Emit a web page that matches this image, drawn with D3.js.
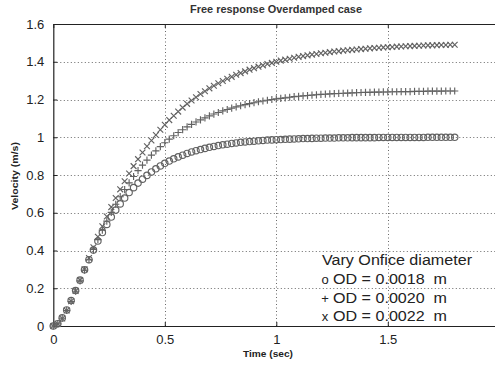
<!DOCTYPE html>
<html><head><meta charset="utf-8">
<script src="https://cdn.jsdelivr.net/npm/d3@7"></script>
<style>
body{margin:0;background:#fff;}
svg text{font-family:"Liberation Sans",Arial,sans-serif;}
</style></head><body>
<svg id="chart" width="495" height="365"></svg>
<script>
const chartTitle = "Free response Overdamped case";
const xLabel = "Time (sec)";
const yLabel = "Velocity (m/s)";
const legendTitle = "Vary Onfice diameter";
const seriesNames = ["OD = 0.0018  m", "OD = 0.0020  m", "OD = 0.0022  m"];
const seriesSymbols = ["o", "+", "x"];
const xTicks = [0, 0.5, 1, 1.5];
const xTickLabels = ["0", "0.5", "1", "1.5"];
const yTicks = [0, 0.2, 0.4, 0.6, 0.8, 1, 1.2, 1.4, 1.6];
const yTickLabels = ["0", "0.2", "0.4", "0.6", "0.8", "1", "1.2", "1.4", "1.6"];

const time = [0,0.02,0.04,0.06,0.08,0.10,0.12,0.14,0.16,0.18,0.20,0.22,0.24,0.26,0.28,0.30,0.32,0.34,0.36,0.38,
0.40,0.42,0.44,0.46,0.48,0.50,0.52,0.54,0.56,0.58,0.60,0.62,0.64,0.66,0.68,0.70,0.72,0.74,0.76,0.78,
0.80,0.82,0.84,0.86,0.88,0.90,0.92,0.94,0.96,0.98,1.00,1.02,1.04,1.06,1.08,1.10,1.12,1.14,1.16,1.18,
1.20,1.22,1.24,1.26,1.28,1.30,1.32,1.34,1.36,1.38,1.40,1.42,1.44,1.46,1.48,1.50,1.52,1.54,1.56,1.58,
1.60,1.62,1.64,1.66,1.68,1.70,1.72,1.74,1.76,1.78,1.80];

// OD = 0.0018 m  (o)
const velOD18 = [0,0.012,0.043,0.085,0.135,0.188,0.243,0.298,0.351,0.402,0.450,0.495,0.538,0.577,0.614,0.647,0.678,0.707,0.733,0.757,
0.778,0.798,0.816,0.833,0.848,0.862,0.874,0.886,0.896,0.905,0.914,0.922,0.929,0.935,0.941,0.947,0.951,0.956,0.960,0.963,
0.967,0.970,0.973,0.975,0.977,0.979,0.981,0.983,0.985,0.986,0.987,0.988,0.989,0.990,0.991,0.992,0.993,0.993,0.994,0.995,
0.995,0.996,0.996,0.996,0.997,0.997,0.997,0.998,0.998,0.998,0.998,0.998,0.998,0.999,0.999,0.999,0.999,0.999,0.999,0.999,
0.999,0.999,0.999,0.999,1.000,1.000,1.000,1.000,1.000,1.000,1.000];

// OD = 0.0020 m  (+)
const velOD20 = [0,0.011,0.041,0.082,0.130,0.184,0.239,0.296,0.351,0.406,0.458,0.508,0.556,0.602,0.645,0.685,0.723,0.758,0.792,0.823,
0.852,0.879,0.905,0.928,0.950,0.971,0.990,1.008,1.025,1.040,1.055,1.068,1.081,1.092,1.103,1.113,1.123,1.131,1.140,1.147,
1.154,1.161,1.167,1.173,1.178,1.183,1.188,1.192,1.196,1.200,1.203,1.206,1.209,1.212,1.215,1.217,1.219,1.221,1.223,1.225,
1.227,1.228,1.230,1.231,1.232,1.233,1.234,1.235,1.236,1.237,1.238,1.238,1.239,1.239,1.240,1.240,1.241,1.241,1.242,1.242,
1.242,1.243,1.243,1.243,1.244,1.244,1.244,1.244,1.245,1.245,1.245];

// OD = 0.0022 m  (x)
const velOD22 = [0,0.011,0.040,0.082,0.131,0.186,0.243,0.301,0.360,0.417,0.473,0.528,0.580,0.630,0.678,0.724,0.767,0.808,0.847,0.884,
0.919,0.952,0.983,1.012,1.040,1.066,1.091,1.114,1.136,1.157,1.177,1.195,1.212,1.229,1.244,1.259,1.273,1.286,1.298,1.310,
1.320,1.331,1.340,1.349,1.358,1.366,1.374,1.381,1.388,1.394,1.400,1.406,1.411,1.416,1.421,1.426,1.430,1.434,1.438,1.441,
1.445,1.448,1.451,1.454,1.456,1.459,1.461,1.463,1.465,1.467,1.469,1.471,1.473,1.474,1.476,1.477,1.478,1.480,1.481,1.482,
1.483,1.484,1.485,1.486,1.487,1.487,1.488,1.489,1.489,1.490,1.490];

const seriesValues = [velOD18, velOD20, velOD22];

const svg = d3.select("#chart");
const mLeft = 53.3, mRight = 499.3, mTop = 24, mBottom = 326;
const x = d3.scaleLinear().domain([0, 2]).range([mLeft, mRight]);
const y = d3.scaleLinear().domain([0, 1.6]).range([mBottom, mTop]);

// grid
const grid = svg.append("g").attr("stroke", "#444").attr("stroke-width", 1)
  .attr("stroke-dasharray", "1,2.5").attr("opacity", 0.8);
grid.selectAll("line.v").data(xTicks.filter(d => d > 0)).join("line").attr("class", "v")
  .attr("x1", d => Math.round(x(d)) + 0.5).attr("x2", d => Math.round(x(d)) + 0.5)
  .attr("y1", mTop).attr("y2", mBottom);
grid.selectAll("line.h").data(yTicks.filter(d => d > 0 && d < 1.6)).join("line").attr("class", "h")
  .attr("y1", d => Math.round(y(d)) + 0.5).attr("y2", d => Math.round(y(d)) + 0.5)
  .attr("x1", mLeft).attr("x2", mRight);

// axes (MATLAB-style inward ticks)
const yAxis = d3.axisLeft(y).tickValues(yTicks).tickFormat((d, i) => yTickLabels[i])
  .tickSizeInner(-4).tickSizeOuter(0).tickPadding(9);
const xAxis = d3.axisBottom(x).tickValues(xTicks).tickFormat((d, i) => xTickLabels[i])
  .tickSizeInner(-4).tickSizeOuter(0).tickPadding(9);
const gy = svg.append("g").attr("transform", `translate(${mLeft},0)`).call(yAxis);
const gx = svg.append("g").attr("transform", `translate(0,${mBottom})`).call(xAxis);
const gxt = svg.append("g").attr("transform", `translate(0,${mTop})`)
  .call(d3.axisTop(x).tickValues(xTicks).tickFormat("").tickSizeInner(-4).tickSizeOuter(0));
[gy, gx, gxt].forEach(g => {
  g.select(".domain").attr("stroke", "#222").attr("stroke-width", 1.2);
  g.selectAll(".tick line").attr("stroke", "#222");
  g.selectAll(".tick text").attr("font-size", 13).attr("fill", "#222")
    .attr("font-family", "Liberation Sans, Arial, sans-serif");
});

// series markers
const plot = svg.append("g");
const markColor = "#626262";
seriesValues.forEach((vals, si) => {
  const pts = time.map((t, i) => [t, vals[i]]);
  const g = plot.append("g").attr("stroke", markColor).attr("fill", "none").attr("stroke-width", 1.15);
  const sym = seriesSymbols[si];
  if (sym === "o") {
    g.selectAll("circle").data(pts).join("circle")
      .attr("cx", d => x(d[0])).attr("cy", d => y(d[1])).attr("r", 3.2);
  } else if (sym === "+") {
    g.selectAll("path").data(pts).join("path")
      .attr("d", d => { const cx = x(d[0]), cy = y(d[1]), s = 3.6;
        return `M${cx - s},${cy}H${cx + s}M${cx},${cy - s}V${cy + s}`; });
  } else {
    g.selectAll("path").data(pts).join("path")
      .attr("d", d => { const cx = x(d[0]), cy = y(d[1]), s = 2.9;
        return `M${cx - s},${cy - s}L${cx + s},${cy + s}M${cx - s},${cy + s}L${cx + s},${cy - s}`; });
  }
});

// title and labels
svg.append("text").attr("x", 190).attr("y", 13)
  .attr("textLength", 172).attr("lengthAdjust", "spacingAndGlyphs")
  .attr("font-size", 10).attr("font-weight", "bold").attr("fill", "#333").text(chartTitle);
svg.append("text").attr("x", 243).attr("y", 357)
  .attr("textLength", 50).attr("lengthAdjust", "spacingAndGlyphs")
  .attr("font-size", 9.5).attr("font-weight", "bold").attr("fill", "#222").text(xLabel);
svg.append("text").attr("transform", "translate(18,210) rotate(-90)")
  .attr("textLength", 68).attr("lengthAdjust", "spacingAndGlyphs")
  .attr("font-size", 9.5).attr("font-weight", "bold").attr("fill", "#222").text(yLabel);

// legend (text only, like MATLAB text annotations)
const lg = svg.append("g").attr("fill", "#222").attr("font-size", 14);
lg.append("text").attr("x", 322).attr("y", 265)
  .attr("textLength", 150).attr("lengthAdjust", "spacingAndGlyphs").text(legendTitle);
const rowY = [284, 303, 321];
seriesNames.forEach((name, i) => {
  lg.append("text").attr("x", 325).attr("y", rowY[i]).attr("text-anchor", "middle")
    .attr("font-size", 13).text(seriesSymbols[i]);
  lg.append("text").attr("x", 333).attr("y", rowY[i]).style("white-space", "pre")
    .attr("textLength", 114).attr("lengthAdjust", "spacingAndGlyphs").text(name);
});
</script>
</body></html>
